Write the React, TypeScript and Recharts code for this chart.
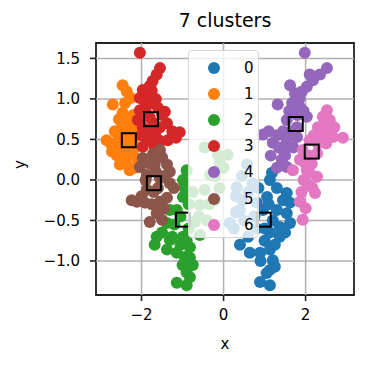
import { ScatterChart, Scatter, XAxis, YAxis, ReferenceLine, ReferenceArea } from 'recharts';

const X_TICKS = [-2, 0, 2];
const Y_TICKS = [-1, -0.5, 0, 0.5, 1, 1.5];
const X_DOMAIN: [number, number] = [-3.11, 3.18];
const Y_DOMAIN: [number, number] = [-1.42, 1.69];

const COLORS = ['#1f77b4', '#ff7f0e', '#2ca02c', '#d62728', '#9467bd', '#8c564b', '#e377c2'];
const LABELS = ['0', '1', '2', '3', '4', '5', '6'];

const cluster0 = [
  [1.18, 0.09], [1.13, 0.0], [1.54, -0.16], [1.62, -0.28], [1.54, -0.41], [1.62, -0.53], [1.37, -0.58],
  [1.37, -0.7], [1.13, -0.65], [0.4, -0.8], [0.64, -0.9], [0.89, -0.9], [1.13, -0.86], [1.2, -0.99],
  [1.13, -1.11], [1.25, -1.07], [0.89, -1.26], [1.13, -1.3], [1.06, -0.21], [0.81, -0.28], [0.96, -0.37],
  [1.3, -0.37], [0.32, -0.09], [0.47, -0.25], [0.15, -0.53], [0.4, -0.37], [0.71, -0.04],
  [0.57, 0.19], [0.45, 0.05], [0.3, -0.2], [0.6, -0.15], [0.3, -0.4], [0.5, -0.5], [0.25, -0.6],
  [0.85, -0.1], [1.3, -0.1], [1.45, -0.25], [1.2, -0.5], [1.0, -0.6], [0.8, -0.6], [0.6, -0.7],
  [1.0, -0.75], [1.25, -0.8], [0.9, -1.0], [1.05, -1.15], [0.75, -0.45], [1.1, -0.3], [1.5, -0.65],
];
const cluster1 = [
  [-2.46, 1.17], [-2.36, 1.09], [-2.26, 1.01], [-2.7, 0.93], [-2.46, 0.83], [-2.29, 0.77], [-2.48, 0.65],
  [-2.24, 0.65], [-2.6, 0.58], [-2.85, 0.49], [-2.58, 0.47], [-2.29, 0.43], [-2.72, 0.35], [-2.46, 0.31],
  [-2.21, 0.35], [-2.53, 0.19], [-2.29, 0.12], [-2.09, 0.25], [-2.11, 0.56],
  [-2.4, 0.95], [-2.55, 0.75], [-2.35, 0.7], [-2.4, 0.55], [-2.5, 0.4], [-2.35, 0.3], [-2.65, 0.6],
  [-2.2, 0.5], [-2.42, 0.45], [-2.38, 0.22], [-2.6, 0.3], [-2.75, 0.45], [-2.2, 0.8], [-2.15, 0.15],
];
const cluster2 = [
  [-0.9, 0.12], [-0.99, 0.0], [-0.99, -0.21], [-1.14, -0.37], [-1.31, -0.37], [-1.38, -0.53], [-1.63, -0.7],
  [-1.68, -0.8], [-1.38, -0.86], [-1.14, -0.9], [-0.82, -0.96], [-0.75, -1.05], [-0.9, -1.14], [-0.82, -1.2],
  [-1.14, -1.27], [-0.9, -1.3], [-0.82, -0.83], [-0.99, -0.7], [-0.7, -0.52], [-0.58, -0.31], [-0.33, 0.06],
  [-0.09, 0.21], [0.1, 0.31], [-0.46, -0.12], [-0.21, -0.25], [-0.58, -0.68], [-1.31, -0.74],
  [-0.95, -0.1], [-0.85, -0.3], [-1.05, -0.45], [-0.85, -0.6], [-1.2, -0.55], [-1.05, -0.8], [-0.95, -0.95],
  [-1.25, -0.7], [-0.9, -0.75], [-1.0, -1.05], [-1.5, -0.65], [-0.75, -0.15], [-0.6, -0.45], [-0.4, -0.5],
  [-0.46, 0.4], [-0.14, 0.31], [-0.2, 0.05], [0.0, 0.15], [-0.35, -0.3], [-0.1, -0.1],
];
const cluster3 = [
  [-2.04, 1.57], [-1.55, 1.38], [-1.63, 1.3], [-1.73, 1.22], [-1.8, 1.16], [-1.97, 1.11], [-1.85, 1.06],
  [-2.04, 1.01], [-1.9, 0.95], [-2.04, 0.86], [-2.09, 0.74], [-1.97, 0.65], [-1.63, 0.62], [-1.38, 0.7],
  [-1.43, 0.84], [-1.07, 0.59], [-1.16, 0.52], [-1.85, 0.49], [-1.68, 0.41], [-1.97, 0.41], [-1.55, 0.47],
  [-1.36, 0.49], [-1.6, 0.89], [-1.8, 0.77],
  [-1.75, 1.1], [-1.9, 0.85], [-1.75, 0.95], [-1.85, 0.6], [-1.7, 0.7], [-1.55, 0.65], [-1.5, 0.8],
  [-1.75, 0.55], [-1.25, 0.6], [-1.6, 0.5], [-2.0, 0.55], [-1.65, 1.0],
];
const cluster4 = [
  [1.98, 1.57], [2.52, 1.38], [2.35, 1.3], [2.18, 1.23], [2.03, 1.15], [1.91, 1.09], [1.62, 1.17],
  [1.74, 1.07], [1.32, 0.93], [1.67, 0.95], [1.86, 0.9], [1.54, 0.74], [2.03, 0.78], [1.79, 0.65],
  [0.96, 0.56], [1.2, 0.46], [1.45, 0.37], [1.54, 0.49], [1.79, 0.53], [1.42, 0.25], [1.3, 0.15], [1.54, 0.16],
  [2.1, 1.3], [1.85, 1.0], [1.6, 0.85], [1.45, 0.6], [1.65, 0.6], [1.3, 0.55], [1.5, 0.3],
  [1.35, 0.4], [1.15, 0.3], [1.7, 0.4], [1.95, 0.85], [1.8, 0.8], [1.1, 0.6],
];
const cluster5 = [
  [-1.55, 0.37], [-1.72, 0.32], [-1.97, 0.27], [-2.04, 0.16], [-1.38, 0.19], [-1.31, 0.1], [-1.87, 0.06],
  [-1.55, 0.02], [-1.31, -0.04], [-1.21, -0.1], [-2.11, -0.27], [-1.92, -0.28], [-1.55, -0.27], [-1.38, -0.22],
  [-1.63, -0.41], [-1.8, -0.52], [-1.5, -0.49], [-1.87, -0.12], [-1.68, 0.19], [-2.24, -0.25],
  [-1.65, 0.1], [-1.8, 0.2], [-1.45, 0.05], [-1.7, -0.15], [-1.6, -0.1], [-1.75, -0.3], [-1.6, -0.3],
  [-1.45, -0.35], [-1.9, 0.0], [-1.5, 0.28], [-2.0, -0.2],
];
const cluster6 = [
  [2.52, 0.86], [2.59, 0.74], [2.42, 0.78], [2.3, 0.65], [2.59, 0.62], [2.91, 0.52], [2.67, 0.53],
  [2.42, 0.53], [2.1, 0.49], [1.93, 0.37], [1.86, 0.25], [2.28, 0.33], [1.69, 0.12], [2.03, 0.12],
  [2.28, 0.04], [2.16, -0.09], [1.86, -0.27], [1.93, -0.49], [2.23, -0.16], [2.1, 0.09],
  [2.45, 0.68], [2.2, 0.55], [2.3, 0.45], [2.5, 0.45], [2.1, 0.3], [2.0, 0.2], [2.15, 0.2],
  [1.95, 0.0], [2.05, -0.05], [1.9, -0.15], [2.7, 0.65], [2.35, 0.6], [2.0, -0.35],
];
const centroids = [
  [0.98, -0.49], [-2.31, 0.49], [-0.99, -0.49], [-1.77, 0.75], [1.76, 0.69], [-1.7, -0.04], [2.15, 0.35],
];

const clusters = [cluster0, cluster1, cluster2, cluster3, cluster4, cluster5, cluster6];
const toPoints = (arr: number[][]) => arr.map(([x, y]) => ({ x, y }));

const FONT = 'DejaVu Sans, sans-serif';
const fmtX = (v: number) => String(v).replace('-', '\u2212');
const fmtY = (v: number) => v.toFixed(1).replace('-', '\u2212');

function Dot(color: string) {
  return (props: any) => <circle cx={props.cx} cy={props.cy} r={6} fill={color} />;
}

function Square(props: any) {
  return <rect x={props.cx - 7} y={props.cy - 7} width={14} height={14} fill="none" stroke="#000" strokeWidth={2} />;
}

// matplotlib-style legend box, laid over the plot so points show through faintly
function ClusterLegend() {
  return (
    <div
      style={{
        position: 'absolute',
        left: 188,
        top: 50,
        width: 71,
        height: 188,
        boxSizing: 'border-box',
        background: 'rgba(255,255,255,0.8)',
        border: '1px solid #d5d5d5',
        borderRadius: 4,
        fontFamily: FONT,
        fontSize: 15,
        color: '#000',
      }}
    >
      {LABELS.map((l, i) => (
        <div key={l} style={{ position: 'absolute', left: 0, top: 16.5 + i * 26.2 - 10, height: 20, width: 71 }}>
          <svg width={30} height={20} style={{ position: 'absolute', left: 10, top: 0 }}>
            <circle cx={15} cy={10} r={6} fill={COLORS[i]} />
          </svg>
          <span style={{ position: 'absolute', left: 55, top: 1, lineHeight: '18px' }}>{l}</span>
        </div>
      ))}
    </div>
  );
}

export default function App() {
  return (
    <div style={{ position: 'relative', width: 369, height: 369, background: '#fff' }}>
      <style>{'body{margin:0}'}</style>
      <div
        style={{
          position: 'absolute',
          top: 9,
          left: 96,
          width: 258,
          textAlign: 'center',
          fontFamily: FONT,
          fontSize: 19,
          color: '#000',
        }}
      >
        7 clusters
      </div>
      <ScatterChart width={369} height={369} margin={{ top: 43, right: 15, bottom: 0, left: 0 }}>
        <XAxis
          type="number"
          dataKey="x"
          domain={X_DOMAIN}
          ticks={X_TICKS}
          allowDataOverflow
          tickFormatter={fmtX}
          height={74}
          axisLine={false}
          tickSize={6}
          tickMargin={8}
          tickLine={{ stroke: '#222', strokeWidth: 1.6 }}
          tick={{ fill: '#000', fontSize: 15, fontFamily: FONT }}
          label={{ value: 'x', position: 'insideBottom', offset: 20, fill: '#000', fontSize: 15, fontFamily: FONT }}
        />
        <YAxis
          type="number"
          dataKey="y"
          domain={Y_DOMAIN}
          ticks={Y_TICKS}
          allowDataOverflow
          tickFormatter={fmtY}
          width={96}
          axisLine={false}
          tickSize={6}
          tickMargin={10}
          tickLine={{ stroke: '#222', strokeWidth: 1.6 }}
          tick={{ fill: '#000', fontSize: 15, fontFamily: FONT }}
          label={{ value: 'y', angle: -90, position: 'insideLeft', offset: 20, fill: '#000', fontSize: 15, fontFamily: FONT }}
        />
        {clusters.map((c, i) => (
          <Scatter
            key={i}
            name={LABELS[i]}
            data={toPoints(c)}
            fill={COLORS[i]}
            shape={Dot(COLORS[i])}
            isAnimationActive={false}
          />
        ))}
        {X_TICKS.map((t) => (
          <ReferenceLine key={'x' + t} x={t} stroke="#b0b0b0" strokeWidth={1.5} />
        ))}
        {Y_TICKS.map((t) => (
          <ReferenceLine key={'y' + t} y={t} stroke="#b0b0b0" strokeWidth={1.5} />
        ))}
        <Scatter data={toPoints(centroids)} shape={Square} legendType="none" isAnimationActive={false} />
        <ReferenceArea
          x1={X_DOMAIN[0]}
          x2={X_DOMAIN[1]}
          y1={Y_DOMAIN[0]}
          y2={Y_DOMAIN[1]}
          fill="none"
          stroke="#222"
          strokeWidth={1.8}
          ifOverflow="visible"
        />
      </ScatterChart>
      <ClusterLegend />
    </div>
  );
}
